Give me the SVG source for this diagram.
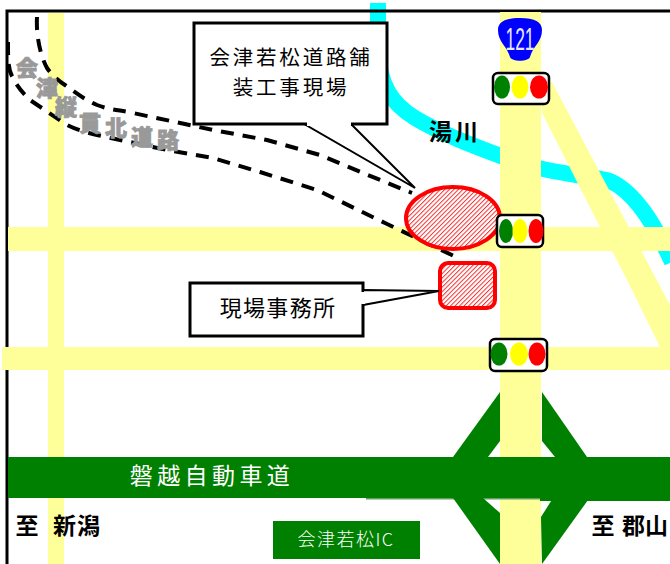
<svg xmlns="http://www.w3.org/2000/svg" width="670" height="564" viewBox="0 0 670 564">
<style>
.road{fill:#ffff99}
.diag{fill:#ffff99}
.hw{fill:#008000}
.dash{fill:none;stroke:#000;stroke-width:4;stroke-dasharray:13 9}
.box{fill:#fff;stroke:#000;stroke-width:3}
.ptr{fill:#fff;stroke:#000;stroke-width:2;stroke-linejoin:miter}
.site{fill:url(#hatch);stroke:#ff0000;stroke-width:4}
.lamp{fill:#fff;stroke:#000;stroke-width:2.5}
.g{fill:#008000}.y{fill:#ffff00}.r{fill:#ff0000}
text{font-family:"Noto Sans CJK JP","Liberation Sans",sans-serif;text-anchor:middle}
.lbl{font-size:22px;fill:#000}
.lbl2{font-size:20.5px;fill:#000;letter-spacing:2.8px}
.hwt{font-size:23px;fill:#fff}
.bold{font-size:23px;font-weight:700;fill:#000}
.gray{font-size:22px;font-weight:900;fill:#999;stroke:#999;stroke-width:.8}
</style>
<defs>
<pattern id="hatch" width="3.2" height="3.2" patternUnits="userSpaceOnUse" patternTransform="rotate(-45)">
<rect width="3.2" height="3.2" fill="#fff"/>
<rect width="3.2" height="1" fill="#f03030"/>
</pattern>
</defs>
<rect width="670" height="564" fill="#fff"/>
<g id="river"><path d="M378 3V50C379 85 392 104 415 118C440 133 470 145 520 163C550 173 590 176 610 181C635 192 655 225 672 262" fill="none" stroke="#00ffff" stroke-width="16"/></g>
<g id="frame"><path d="M7 564V11H670" fill="none" stroke="#000" stroke-width="3"/></g>
<g id="roads">
<rect class="road" x="48" y="13" width="16" height="551"/>
<rect class="road" x="8" y="227" width="662" height="24"/>
<rect class="road" x="2" y="347" width="668" height="23"/>
<rect class="road" x="500" y="12" width="41" height="552"/>
<polygon class="diag" points="552,82 670,305 670,370 660,347 628,282 542,113 541,85"/>
</g>
<g id="highway">
<rect class="hw" x="8" y="457" width="662" height="41"/>
<rect x="366" y="498" width="304" height="1.5" fill="#60a060"/>
<rect class="hw" x="540" y="498" width="130" height="3"/>
<polygon class="hw" points="500,392 453,457 488,457 500,441"/>
<polygon class="hw" points="542,392 587,457 555,457 542,441"/>
<polygon class="hw" points="453,498 500,564 500,513 483,498"/>
<polygon class="hw" points="542,564 588,500 553,498 541,517"/>
</g>
<g id="connectors">
<path class="dash" d="M37 17C36 35 40 55 47 68C54 78 65 85 65 85C75 92 85 100 97 105C110 110 120 110 133 113L213 130L267 140L320 155L368 175L412 193"/>
<path class="dash" d="M8 42C8 60 8 70 13 78C18 88 25 95 30 100L67 125C77 130 85 132 97 135L167 150L213 158L260 172L317 190L385 223L458 258"/>
</g>
<g id="site-ellipse"><ellipse class="site" cx="453" cy="218" rx="47" ry="31"/></g>
<g id="site-office"><rect class="site" x="440" y="263" width="55" height="45" rx="8"/></g>
<g id="callout-site">
<rect class="box" x="194" y="23" width="193" height="101"/>
<polygon class="ptr" points="306,125 352,125 415,188"/>
<rect x="307" y="121" width="44" height="5" fill="#fff"/>
<text class="lbl2"><tspan x="291" y="65">会津若松道路舗</tspan><tspan x="291" y="95">装工事現場</tspan></text>
</g>
<g id="callout-office">
<rect class="box" x="190" y="283" width="173" height="53"/>
<polygon class="ptr" points="363,290 439,291 363,305"/>
<rect x="360" y="292" width="5" height="12" fill="#fff"/>
<text class="lbl" x="278" y="316" letter-spacing="1.3">現場事務所</text>
</g>
<g id="shield">
<path d="M498 30C498 22 505 18 520 18C535 18 542 22 542 30C542 42 533 46 530 57C528 62 512 62 510 57C507 46 498 42 498 30Z" fill="#0000ff"/>
<text x="520" y="50" font-size="32" fill="#e8e8ff" textLength="29" lengthAdjust="spacingAndGlyphs" style="font-family:'Liberation Sans',sans-serif">121</text>
</g>
<g id="signal-1">
<rect class="lamp" x="493" y="73" width="56" height="31" rx="5"/>
<ellipse class="g" cx="502" cy="87" rx="8" ry="11.5"/><ellipse class="y" cx="520" cy="87" rx="8.5" ry="11.5"/><ellipse class="r" cx="539" cy="87" rx="9" ry="11.5"/>
</g>
<g id="signal-2">
<rect class="lamp" x="497" y="215" width="46" height="32" rx="5"/>
<ellipse class="g" cx="506" cy="231" rx="7" ry="12"/><ellipse class="y" cx="520" cy="231" rx="7.5" ry="12"/><ellipse class="r" cx="536" cy="231" rx="7.5" ry="12"/>
</g>
<g id="signal-3">
<rect class="lamp" x="490" y="339" width="57" height="32" rx="5"/>
<ellipse class="g" cx="499" cy="354" rx="8.5" ry="11.5"/><ellipse class="y" cx="519" cy="354" rx="9" ry="11.5"/><ellipse class="r" cx="537" cy="354" rx="8.5" ry="11.5"/>
</g>
<g id="ic-label">
<rect class="hw" x="273" y="521" width="147" height="38"/>
<text x="346" y="546" font-size="18" fill="#fff" letter-spacing="1.5" style="font-weight:300">会津若松IC</text>
</g>
<g id="labels">
<text class="hwt" x="212" y="484" letter-spacing="4.4">磐越自動車道</text>
<text class="bold" x="27" y="534">至</text>
<text class="bold" x="77" y="534" letter-spacing="1">新潟</text>
<text class="bold" x="603" y="534">至</text>
<text class="bold" x="645" y="534">郡山</text>
<text class="bold" x="455" y="140" letter-spacing="3">湯川</text>
<text class="gray" x="27" y="76">会</text>
<text class="gray" x="47" y="96">津</text>
<text class="gray" x="66" y="115">縦</text>
<text class="gray" x="90" y="131">貫</text>
<text class="gray" x="116" y="136">北</text>
<text class="gray" x="142" y="145">道</text>
<text class="gray" x="168" y="148">路</text>
</g>
</svg>
